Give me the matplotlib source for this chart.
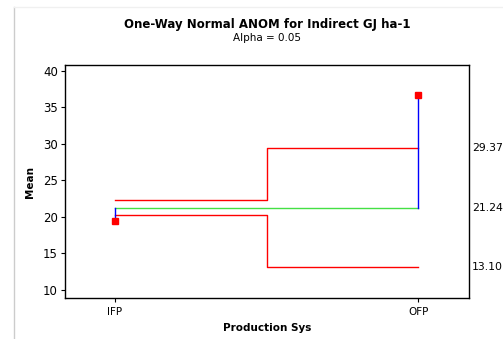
import matplotlib.pyplot as plt
from matplotlib.lines import Line2D

# ANOM results per production system
groups = ["IFP", "OFP"]
means = [19.4, 36.68]
udl = [22.35, 29.37]
ldl = [20.25, 13.10]
center = 21.24
limit_labels = ["29.37", "21.24", "13.10"]

plt.rcParams["font.family"] = "DejaVu Sans"

fig = plt.figure(figsize=(5.03, 3.39), dpi=100)
ax = fig.add_axes([0.1292, 0.12, 0.8032, 0.6883])

xs = [1, 2]
mid = 1.5

# decision limits as steps between groups
ax.step([xs[0], mid, xs[1]], [udl[0], udl[1], udl[1]], where="post", color="red", lw=1)
ax.step([xs[0], mid, xs[1]], [ldl[0], ldl[1], ldl[1]], where="post", color="red", lw=1)
ax.plot([xs[0], xs[1]], [center, center], color="#44e044", lw=1)

for x, m in zip(xs, means):
    ax.plot([x, x], [center, m], color="blue", lw=1)
ax.plot(xs, means, "s", color="red", ms=5, ls="none")

# limit values to the right of the plot
for lab in limit_labels:
    ax.text(2.176, float(lab), lab, fontsize=7.8, va="center", ha="left", clip_on=False)

ax.set_xlim(0.835, 2.167)
ax.set_ylim(8.86, 40.78)
ax.set_xticks(xs)
ax.set_xticklabels(groups, fontsize=7.5)
ax.set_yticks([10, 15, 20, 25, 30, 35, 40])
ax.tick_params(axis="y", labelsize=8.5, length=3, pad=2)
ax.tick_params(axis="x", length=3)
for s in ax.spines.values():
    s.set_linewidth(1)

ax.set_xlabel("Production Sys", fontsize=7.5, fontweight="bold", labelpad=4)
ax.set_ylabel("Mean", fontsize=7.5, fontweight="bold", labelpad=6)

fig.text(0.531, 0.928, "One-Way Normal ANOM for Indirect GJ ha-1", ha="center",
         va="center", fontsize=8.5, fontweight="bold")
fig.text(0.531, 0.888, "Alpha = 0.05", ha="center", va="center", fontsize=7.5)

# frame lines on the page
fig.add_artist(Line2D([0.028, 0.028], [0, 0.98], color="#cccccc", lw=1))
fig.add_artist(Line2D([0.028, 1], [0.98, 0.98], color="#f0f0f0", lw=1))

fig.savefig("out.png", dpi=100)
